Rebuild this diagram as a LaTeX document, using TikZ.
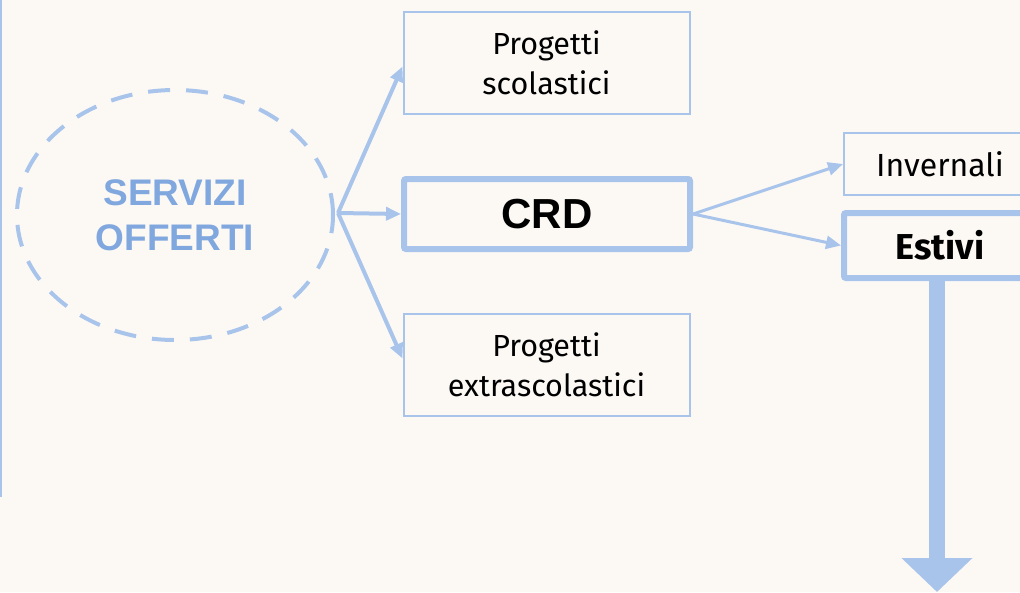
\documentclass[tikz,border=0pt]{standalone}
\usepackage{fontspec}
\setmainfont{Fira Sans}
\newfontfamily\arialfont{Liberation Sans}
\usepackage{tikz}
\usetikzlibrary{arrows.meta}
\usetikzlibrary{shapes.geometric}

\definecolor{cream}{RGB}{252,249,245}
\definecolor{paleblue}{RGB}{169,196,235}
\definecolor{midblue}{RGB}{128,167,222}

\begin{document}
\begin{tikzpicture}[x=1pt,y=-1pt,
  thin box/.style={rectangle,draw=paleblue,line width=2pt,inner sep=0pt,align=center},
  thick box/.style={rectangle,draw=paleblue,line width=6pt,rounded corners=2pt,inner sep=0pt},
  project box/.style={thin box,minimum width=286pt,minimum height=102pt,font=\fontsize{30.5}{40}\selectfont},
  link/.style={-{Triangle[length=15pt,width=13pt]},draw=paleblue,line width=4pt}]

  \fill[cream] (0,0) rectangle (1020,592);
  \clip (0,0) rectangle (1020,592);
  \draw[paleblue,line width=2.5pt] (1,0) -- (1,497);

  \node[ellipse,draw=paleblue,line width=4pt,dash pattern=on 22pt off 16pt,minimum width=316pt,minimum height=250pt,inner sep=0pt,text=midblue,align=center,font=\arialfont\bfseries\fontsize{37}{45}\selectfont] (serv) at (175,215) {SERVIZI\\OFFERTI};

  \node[project box] (ps) at (546.5,62.5) {Progetti\\scolastici};
  \node[project box] (pe) at (546.5,364.5) {Progetti\\extrascolastici};
  \node[thick box,minimum width=286pt,minimum height=70pt,font=\arialfont\bfseries\fontsize{42}{50}\selectfont] (crd) at (547,214) {CRD};
  \node[thin box,minimum width=192pt,minimum height=62pt,font=\fontsize{32}{38}\selectfont] (inv) at (940,164) {Invernali};
  \node[thick box,minimum width=192pt,minimum height=65pt,font=\bfseries\fontsize{36}{40}\selectfont] (est) at (940,245.5) {Estivi};

  \coordinate (fork) at (338,213);
  \coordinate (down) at (937,592);

  % arrows
  \draw[link] (fork) -- ([yshift=-4pt]ps.west);
  \draw[link] (fork) -- (crd.west);
  \draw[link] (fork) -- ([yshift=6pt]pe.west);
  \draw[link,line width=3pt] (crd.east) -- (inv.west);
  \draw[link,line width=3pt] (crd.east) -- (est.west);
  \draw[paleblue,line width=16pt,-{Triangle[length=34pt,width=69pt]}] (down |- est.south) -- (down);

\end{tikzpicture}
\end{document}
